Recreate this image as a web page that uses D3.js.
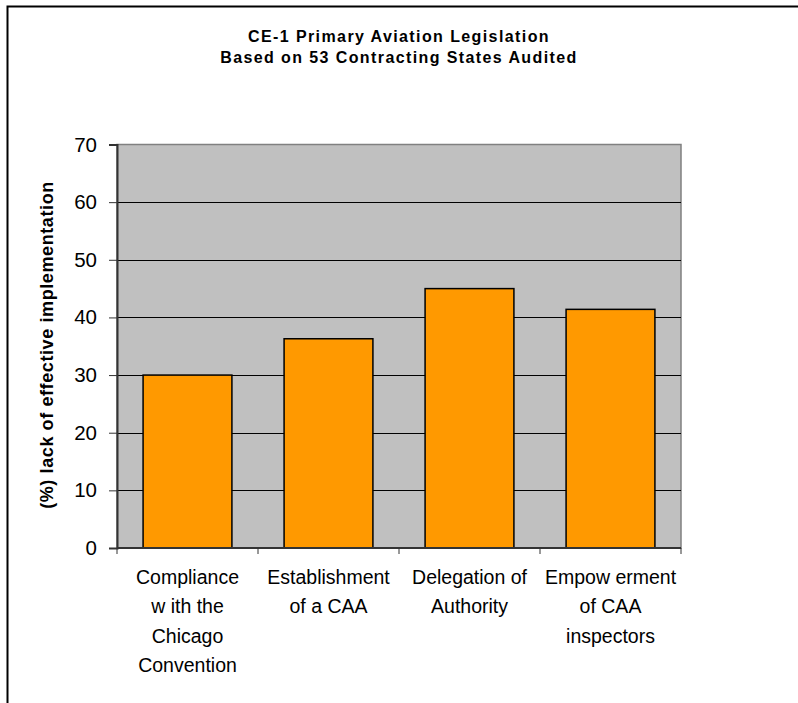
<!DOCTYPE html>
<html>
<head>
<meta charset="utf-8">
<script src="https://cdn.jsdelivr.net/npm/d3@7"></script>
<style>
  body { margin: 0; background: #fff; }
  svg { display: block; font-family: Arial, "Liberation Sans", sans-serif; }
</style>
</head>
<body>
<svg id="chart" width="798" height="703"></svg>
<script>
// chart data
const titleLines = ['CE-1 Primary Aviation Legislation', 'Based on 53 Contracting States Audited'];
const categories = [
  ['Compliance', 'w ith the', 'Chicago', 'Convention'],
  ['Establishment', 'of a CAA'],
  ['Delegation of', 'Authority'],
  ['Empow erment', 'of CAA', 'inspectors']
];
const values = [30.0, 36.3, 45.0, 41.4];
const yTicks = [0, 10, 20, 30, 40, 50, 60, 70];
const yTitle = '(%) lack of effective implementation';

const svg = d3.select('#chart');
const plot = { left: 117, top: 144.5, right: 681, bottom: 548 };

// outer frame (top + left edge only visible)
svg.append('path')
  .attr('d', 'M7.5,703 V6.5 H798')
  .attr('fill', 'none')
  .attr('stroke', '#000')
  .attr('stroke-width', 2);

const x = d3.scaleBand()
  .domain(d3.range(categories.length))
  .range([plot.left, plot.right])
  .paddingInner(0.37)
  .paddingOuter(0.185);

const y = d3.scaleLinear().domain([0, 70]).range([plot.bottom, plot.top]);

// plot background
svg.append('rect')
  .attr('x', plot.left).attr('y', plot.top)
  .attr('width', plot.right - plot.left).attr('height', plot.bottom - plot.top)
  .attr('fill', '#c0c0c0')
  .attr('stroke', '#808080')
  .attr('stroke-width', 1.5);

// gridlines
svg.append('g')
  .selectAll('line')
  .data(yTicks.filter(t => t > 0 && t < 70))
  .enter().append('line')
    .attr('x1', plot.left).attr('x2', plot.right)
    .attr('y1', d => Math.round(y(d)) + 0.5).attr('y2', d => Math.round(y(d)) + 0.5)
    .attr('stroke', '#000')
    .attr('stroke-width', 1);

// bars
svg.append('g')
  .selectAll('rect')
  .data(values)
  .enter().append('rect')
    .attr('x', (d, i) => x(i))
    .attr('y', d => y(d))
    .attr('width', x.bandwidth())
    .attr('height', d => y(0) - y(d))
    .attr('fill', '#ff9900')
    .attr('stroke', '#000')
    .attr('stroke-width', 1.5);

// y axis
const yAxis = svg.append('g')
  .attr('transform', `translate(${plot.left},0)`)
  .call(d3.axisLeft(y).tickValues(yTicks).tickSize(8).tickPadding(12));
yAxis.select('.domain').attr('stroke', '#333').attr('stroke-width', 2);
yAxis.selectAll('.tick line').attr('stroke', '#333');
yAxis.selectAll('.tick text')
  .attr('font-size', 20.5)
  .attr('font-family', 'Arial, "Liberation Sans", sans-serif')
  .attr('fill', '#000');

// x axis (category boundaries ticks)
const xEdges = d3.range(categories.length + 1).map(i => plot.left + i * x.step());
const xAxis = svg.append('g');
xAxis.append('line')
  .attr('x1', plot.left).attr('x2', plot.right)
  .attr('y1', plot.bottom).attr('y2', plot.bottom)
  .attr('stroke', '#333').attr('stroke-width', 2);
xAxis.selectAll('.edge')
  .data(xEdges)
  .enter().append('line')
    .attr('class', 'edge')
    .attr('x1', d => d).attr('x2', d => d)
    .attr('y1', plot.bottom).attr('y2', plot.bottom + 6)
    .attr('stroke', '#333');

// category labels
const labels = svg.append('g')
  .selectAll('text')
  .data(categories)
  .enter().append('text')
    .attr('text-anchor', 'middle')
    .attr('font-size', 19.5)
    .attr('fill', '#000')
    .attr('transform', (d, i) => `translate(${x(i) + x.bandwidth() / 2},584)`);
labels.selectAll('tspan')
  .data(d => d)
  .enter().append('tspan')
    .attr('x', 0)
    .attr('y', (d, i) => i * 29.3)
    .text(d => d);

// y axis title
svg.append('text')
  .attr('transform', 'translate(53,345) rotate(-90)')
  .attr('text-anchor', 'middle')
  .attr('font-size', 18)
  .attr('font-weight', 'bold')
  .attr('letter-spacing', 0.6)
  .text(yTitle);

// chart title
svg.append('g')
  .selectAll('text')
  .data(titleLines)
  .enter().append('text')
    .attr('x', 399)
    .attr('y', (d, i) => 42 + i * 21)
    .attr('text-anchor', 'middle')
    .attr('font-size', 16)
    .attr('font-weight', 'bold')
    .attr('letter-spacing', 1.4)
    .text(d => d);
</script>
</body>
</html>
